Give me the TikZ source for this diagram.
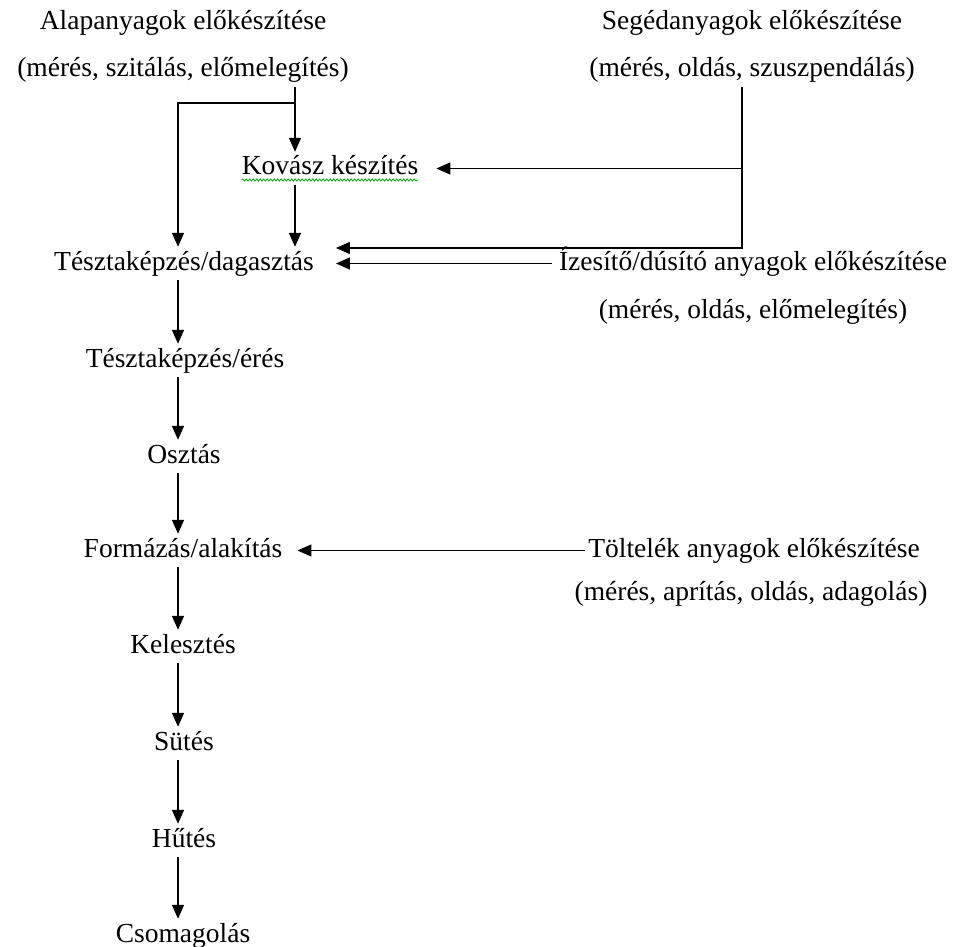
\documentclass[tikz,border=0pt]{standalone}
\usepackage{fontspec}
\setmainfont{Liberation Serif}
\usetikzlibrary{arrows.meta,decorations.pathmorphing}
\begin{document}
\begin{tikzpicture}[x=1pt,y=-1pt,
  txt/.style={font=\fontsize{27.5}{33}\selectfont, text height=19pt, text depth=6pt,
              inner xsep=0pt, inner ysep=4pt, anchor=base},
  arr/.style={line width=1.5pt, -{Triangle[length=14pt,width=12pt]}},
  squig/.style={draw=green!65!black, line width=0.8pt, decorate,
                decoration={snake, amplitude=1.1pt, segment length=3.5pt}}]
\useasboundingbox (0,0) rectangle (953,947);
% text nodes
\node[txt] (alap1) at (183,30) {Alapanyagok előkészítése};
\node[txt] (alap2) at (183,77) {(mérés, szitálás, előmelegítés)};
\node[txt] (seged1) at (752,30) {Segédanyagok előkészítése};
\node[txt] (seged2) at (752,77) {(mérés, oldás, szuszpendálás)};
\node[txt] (kovasz) at (330,175) {Kovász készítés};
\node[txt] (tdag) at (184,270) {Tésztaképzés/dagasztás};
\node[txt] (izes1) at (753,270) {Ízesítő/dúsító anyagok előkészítése};
\node[txt] (izes2) at (753,318) {(mérés, oldás, előmelegítés)};
\node[txt] (teres) at (185,367) {Tésztaképzés/érés};
\node[txt] (osztas) at (184,463) {Osztás};
\node[txt] (formazas) at (183,557) {Formázás/alakítás};
\node[txt] (tolt1) at (754,557) {Töltelék anyagok előkészítése};
\node[txt] (tolt2) at (751,600) {(mérés, aprítás, oldás, adagolás)};
\node[txt] (keleszt) at (183,653) {Kelesztés};
\node[txt] (sutes) at (184,750) {Sütés};
\node[txt] (hutes) at (184,847) {Hűtés};
\node[txt] (csomag) at (183,942) {Csomagolás};
% helper coordinates
\coordinate (colx) at (178,0);
\coordinate (kx) at (295,0);
\coordinate (sx) at (742,0);
\coordinate (split) at (295,103);
% spell-check underline
\draw[squig] ([yshift=-5pt]kovasz.base west) -- ([yshift=-5pt]kovasz.base east);
% connectors
\draw[arr] (alap2.south -| kx) -- (kovasz.north -| kx);
\draw[arr] (split) -| (tdag.north -| colx);
\draw[arr] (kovasz.south -| kx) -- (tdag.north -| kx);
\draw[arr] (seged2.south -| sx) |- ([xshift=22pt,yshift=15.5pt]tdag.east);
\draw[arr] (sx |- kovasz.east) -- ([xshift=18pt]kovasz.east);
\draw[arr] ([xshift=-7pt]izes1.west) -- ([xshift=22pt]tdag.east);
\draw[arr] ([xshift=-3pt]tolt1.west) -- ([xshift=15pt]formazas.east);
\draw[arr] (tdag.south -| colx) -- (teres.north -| colx);
\draw[arr] (teres.south -| colx) -- (osztas.north -| colx);
\draw[arr] (osztas.south -| colx) -- (formazas.north -| colx);
\draw[arr] (formazas.south -| colx) -- (keleszt.north -| colx);
\draw[arr] (keleszt.south -| colx) -- (sutes.north -| colx);
\draw[arr] (sutes.south -| colx) -- (hutes.north -| colx);
\draw[arr] (hutes.south -| colx) -- (csomag.north -| colx);
\end{tikzpicture}
\end{document}
